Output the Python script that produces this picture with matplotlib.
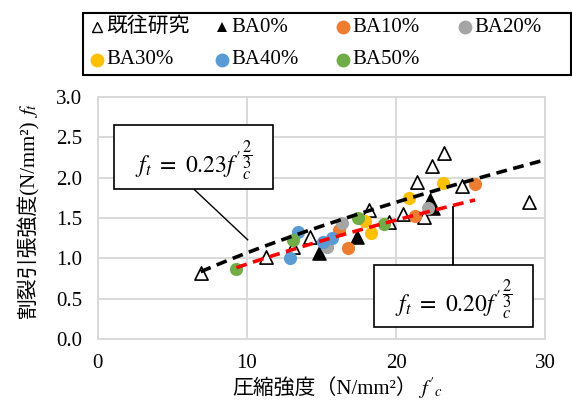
import numpy as np
import matplotlib
matplotlib.use("Agg")
import matplotlib.pyplot as plt
from matplotlib.patches import Rectangle
from matplotlib.lines import Line2D

plt.rcParams['font.family'] = ['Liberation Serif', 'Noto Sans CJK JP']
plt.rcParams['mathtext.fontset'] = 'stix'

# ---- data ----
prior_x = [6.9, 11.3, 13.1, 14.2, 18.2, 19.5, 20.5, 21.4, 21.9, 22.4, 23.2, 24.4, 28.9]
prior_y = [0.82, 1.02, 1.14, 1.26, 1.60, 1.45, 1.55, 1.95, 1.51, 2.14, 2.31, 1.90, 1.70]

ba0_x = [14.85, 17.4, 22.3, 22.5]
ba0_y = [1.07, 1.26, 1.72, 1.62]
ba10_x = [16.2, 16.8, 21.3, 25.3]
ba10_y = [1.35, 1.13, 1.52, 1.92]
ba20_x = [15.35, 16.4, 22.15]
ba20_y = [1.14, 1.44, 1.63]
ba30_x = [17.9, 18.3, 20.9, 23.15]
ba30_y = [1.46, 1.31, 1.75, 1.93]
ba40_x = [12.9, 13.4, 15.1, 15.7]
ba40_y = [1.00, 1.33, 1.20, 1.25]
ba50_x = [9.3, 13.1, 17.45, 19.2]
ba50_y = [0.87, 1.23, 1.50, 1.42]

coef_upper = 0.23
coef_lower = 0.20
upper_range = (6.9, 30.0)
lower_range = (9.3, 25.3)

x_ticks = [0, 10, 20, 30]
y_ticks = [0.0, 0.5, 1.0, 1.5, 2.0, 2.5, 3.0]

# ---- figure ----
W, H = 572, 400
fig = plt.figure(figsize=(W / 100, H / 100), dpi=100)
ax = fig.add_axes([0.171, 0.1525, 0.782, 0.605])

grid_c = '#D9D9D9'
ax.set_xlim(0, 30)
ax.set_ylim(0, 3.0)
ax.set_xticks(x_ticks)
ax.set_yticks(y_ticks)
ax.set_yticklabels([f'{v:.1f}' for v in y_ticks])
ax.grid(True, color=grid_c, lw=1.4, zorder=0)
ax.set_axisbelow(True)
for s in ax.spines.values():
    s.set_color(grid_c)
    s.set_linewidth(1.4)
ax.tick_params(length=0, labelsize=15)
ax.tick_params(axis='x', pad=11)
ax.tick_params(axis='y', pad=11)

ms = 90
series = [
    ('既往研究', prior_x, prior_y, dict(marker='^', facecolor='white', edgecolor='black', linewidth=1.2), 3),
    ('BA0%', ba0_x, ba0_y, dict(marker='^', color='black'), 4),
    ('BA10%', ba10_x, ba10_y, dict(marker='o', color='#ED7D31', lw=0), 4),
    ('BA20%', ba20_x, ba20_y, dict(marker='o', color='#A5A5A5', lw=0), 4),
    ('BA30%', ba30_x, ba30_y, dict(marker='o', color='#FFC000', lw=0), 4),
    ('BA40%', ba40_x, ba40_y, dict(marker='o', color='#5B9BD5', lw=0), 4),
    ('BA50%', ba50_x, ba50_y, dict(marker='o', color='#70AD47', lw=0), 4),
]
for name, xs, ys, style, z in series:
    ax.scatter(xs, ys, s=ms, zorder=z, label=name, **style)

# strength relations  f_t = k * f'c^(2/3)
xu = np.linspace(*upper_range, 100)
xl = np.linspace(*lower_range, 100)
ax.plot(xu, coef_upper * xu ** (2 / 3), color='black', lw=2.6, ls=(0, (3, 1.8)), zorder=5)
ax.plot(xl, coef_lower * xl ** (2 / 3), color='#FF0000', lw=2.6, ls=(0, (3, 1.8)), zorder=5)

# callout boxes
ax.plot([6.43, 10.05], [1.86, 1.23], color='black', lw=1.0, zorder=6)
ax.add_patch(Rectangle((1.07, 1.86), 10.67, 0.79, facecolor='white',
                       edgecolor='black', lw=1.2, zorder=7))
ax.text(6.4, 2.22, r"$f_t\ =\ 0.23f'{}_{c}^{\dfrac{2}{3}}$", ha='center', va='center',
        fontsize=17, zorder=8)

ax.plot([23.8, 23.8], [0.92, 1.64], color='black', lw=1.3, zorder=6)
ax.add_patch(Rectangle((18.5, 0.15), 10.67, 0.77, facecolor='white',
                       edgecolor='black', lw=1.2, zorder=7))
ax.text(23.85, 0.50, r"$f_t\ =\ 0.20f'{}_{c}^{\dfrac{2}{3}}$", ha='center', va='center',
        fontsize=17, zorder=8)

# axis titles (plain text part + math part)
fig.text(0.729, 0.012, "圧縮強度（N/mm²）", ha='right', va='baseline', fontsize=15)
fig.text(0.731, 0.012, r"$f'_{c}$", ha='left', va='baseline', fontsize=15)
fig.text(0.049, 0.7025, "割裂引張強度(N/mm²)", ha='center', va='top',
         rotation=90, fontsize=15)
fig.text(0.051, 0.706, r"$f_t$", ha='center', va='bottom',
         rotation=90, fontsize=15)

# legend: framed box, 4 columns x 2 rows, row-major order
fig.add_artist(Rectangle((83 / W, 1 - 75 / H), (571 - 83) / W, (75 - 13) / H,
                         transform=fig.transFigure, facecolor='white',
                         edgecolor='black', lw=1.5, zorder=10))
col_px = [97, 222, 343, 465]
row_px = [27, 60]
for i, (name, xs, ys, style, z) in enumerate(series):
    cx = col_px[i % 4] / W
    cy = 1 - row_px[i // 4] / H
    st = dict(style)
    mk = st.pop('marker')
    if 'color' in st:
        fc = ec = st['color']
    else:
        fc, ec = st['facecolor'], st['edgecolor']
    msz = 7 if mk == '^' else 10
    fig.add_artist(Line2D([cx], [cy], transform=fig.transFigure, marker=mk,
                          markersize=msz, markerfacecolor=fc, markeredgecolor=ec,
                          markeredgewidth=1.0 if fc == 'white' else 0,
                          linestyle='none', zorder=11))
    fig.text(cx + 9 / W, cy, name, ha='left', va='center', fontsize=15, zorder=12)

fig.savefig('out.png', dpi=100)
